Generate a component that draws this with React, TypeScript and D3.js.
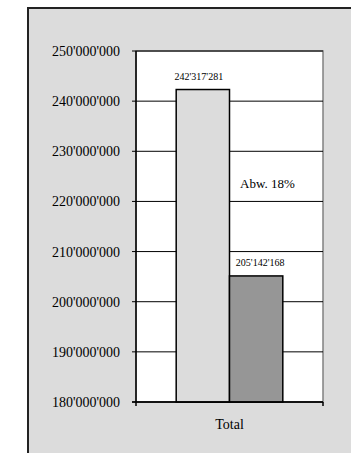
import React from "react";
import * as d3 from "d3";

const categories = ["Total"];
const seriesNames = ["A", "B"];
const seriesValues = [242317281, 205142168];
const seriesColors = ["#dcdcdc", "#969696"];
const yTicks = [180000000, 190000000, 200000000, 210000000, 220000000, 230000000, 240000000, 250000000];
const annotation = "Abw. 18%";

const fmt = (v: number) => {
  const s = Math.round(v).toString();
  return s.replace(/\B(?=(\d{3})+(?!\d))/g, "'");
};

export default function App() {
  const W = 351, H = 453;
  const left = 136, right = 323, top = 51, bottom = 402;
  const y = d3.scaleLinear().domain([180000000, 250000000]).range([bottom, top]);
  const x0 = d3.scaleBand().domain(categories).range([left, right]).paddingInner(0).paddingOuter(0.377);
  const x1 = d3.scaleBand().domain(seriesNames).range([0, x0.bandwidth()]);
  const font = "'Liberation Serif', 'Times New Roman', serif";
  return (
    <svg width={W} height={H} style={{ position: "absolute", left: 0, top: 0 }} fontFamily={font}>
      <rect x={0} y={0} width={W} height={H} fill="#ffffff" />
      <rect x={28} y={8} width={W - 28} height={H - 8} fill="#dcdcdc" />
      <line x1={28} y1={8} x2={W} y2={8} stroke="#222" strokeWidth={2} />
      <line x1={28} y1={7} x2={28} y2={H} stroke="#222" strokeWidth={2} />
      <rect x={left} y={top} width={right - left} height={bottom - top} fill="#ffffff" stroke="#808080" strokeWidth={1.5} />
      {yTicks.map((t) => (
        <g key={t}>
          <line x1={left - 4} x2={right} y1={y(t)} y2={y(t)} stroke="#000" strokeWidth={1} />
          <text x={120} y={y(t) + 5} fontSize={14} textAnchor="end" fill="#000">{fmt(t)}</text>
        </g>
      ))}
      {categories.map((c) => (
        <g key={c} transform={`translate(${x0(c)},0)`}>
          {seriesValues.map((v, i) => (
            <rect key={i} x={x1(seriesNames[i])!} y={y(v)} width={x1.bandwidth()} height={bottom - y(v)}
              fill={seriesColors[i]} stroke="#000" strokeWidth={1.5} />
          ))}
        </g>
      ))}
      <text x={x0("Total")! + x1("A")! + x1.bandwidth() / 2 - 4} y={y(seriesValues[0]) - 10} fontSize={10} textAnchor="middle">{fmt(seriesValues[0])}</text>
      <text x={x0("Total")! + x1("B")! + x1.bandwidth() / 2 + 4} y={y(seriesValues[1]) - 10} fontSize={10} textAnchor="middle">{fmt(seriesValues[1])}</text>
      <text x={240} y={188} fontSize={13} fill="#000">{annotation}</text>
      <line x1={left} x2={left} y1={top} y2={bottom} stroke="#000" strokeWidth={1.5} />
      <line x1={left - 4} x2={right} y1={bottom} y2={bottom} stroke="#000" strokeWidth={1.5} />
      <line x1={left} x2={left} y1={bottom} y2={bottom + 4} stroke="#000" strokeWidth={1.5} />
      <line x1={right} x2={right} y1={bottom} y2={bottom + 4} stroke="#000" strokeWidth={1.5} />
      <text x={(left + right) / 2} y={429} fontSize={14} textAnchor="middle">{categories[0]}</text>
    </svg>
  );
}
